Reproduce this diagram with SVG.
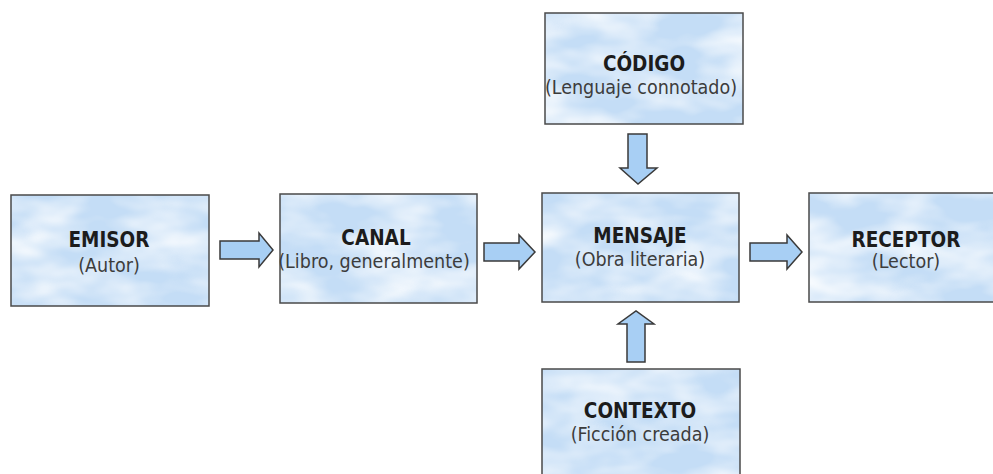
<svg xmlns="http://www.w3.org/2000/svg" width="993" height="474" viewBox="0 0 993 474">
<style>
.bg{fill:#c4ddf6;filter:url(#clouds)}
.bd{fill:none;stroke:#4a4a4a;stroke-width:1.5}
.t{font-family:"DejaVu Sans Condensed","DejaVu Sans",Verdana,sans-serif;font-stretch:condensed;font-weight:bold;font-size:20.5px;fill:#1c1c1c;text-anchor:middle}
.s{font-family:"DejaVu Sans Condensed","DejaVu Sans",Verdana,sans-serif;font-stretch:condensed;font-size:19.5px;fill:#3c3c3c;text-anchor:middle}
.arr{fill:#a8cff4;stroke:#3a3a3a;stroke-width:1.5;stroke-linejoin:miter}
</style>
<defs>
<filter id="clouds" x="0" y="0" width="100%" height="100%" color-interpolation-filters="sRGB">
<feTurbulence type="fractalNoise" baseFrequency="0.014 0.03" numOctaves="3" seed="7" result="n"/>
<feColorMatrix in="n" type="matrix" values="0 0 0 0 1  0 0 0 0 1  0 0 0 0 1  1.7 0 0 0 -0.6" result="w"/>
<feComposite in="w" in2="SourceGraphic" operator="in" result="wc"/>
<feMerge><feMergeNode in="SourceGraphic"/><feMergeNode in="wc"/></feMerge>
</filter>
</defs>
<rect width="993" height="474" fill="#ffffff"/>
<g id="emisor">
<rect class="bg" x="11" y="195" width="198" height="111"/>
<rect class="bd" x="11" y="195" width="198" height="111"/>
<text class="t" x="109" y="247">EMISOR</text>
<text class="s" x="109" y="272">(Autor)</text>
</g>
<g id="canal">
<rect class="bg" x="280" y="194" width="197" height="109"/>
<rect class="bd" x="280" y="194" width="197" height="109"/>
<text class="t" x="376" y="245">CANAL</text>
<text class="s" x="374" y="268">(Libro, generalmente)</text>
</g>
<g id="mensaje">
<rect class="bg" x="542" y="193" width="197" height="109"/>
<rect class="bd" x="542" y="193" width="197" height="109"/>
<text class="t" x="640" y="243">MENSAJE</text>
<text class="s" x="640" y="266">(Obra literaria)</text>
</g>
<g id="receptor">
<rect class="bg" x="809" y="193" width="198" height="109"/>
<rect class="bd" x="809" y="193" width="198" height="109"/>
<text class="t" x="906" y="247">RECEPTOR</text>
<text class="s" x="906" y="268">(Lector)</text>
</g>
<g id="codigo">
<rect class="bg" x="545" y="13" width="198" height="111"/>
<rect class="bd" x="545" y="13" width="198" height="111"/>
<text class="t" x="644" y="71">CÓDIGO</text>
<text class="s" x="641" y="94">(Lenguaje connotado)</text>
</g>
<g id="contexto">
<rect class="bg" x="542" y="369" width="198" height="112"/>
<rect class="bd" x="542" y="369" width="198" height="112"/>
<text class="t" x="640" y="418">CONTEXTO</text>
<text class="s" x="640" y="441">(Ficción creada)</text>
</g>
<g id="connectors">
<polygon class="arr" points="220,241 259,241 259,233 273,250 259,267 259,259 220,259"/>
<polygon class="arr" points="484,243 519,243 519,235 535,252 519,269 519,261 484,261"/>
<polygon class="arr" points="750,243 787,243 787,235 802,252 787,269 787,261 750,261"/>
<polygon class="arr" points="628,134 647,134 647,168 657,168 638,184 620,168 628,168"/>
<polygon class="arr" points="627,362 645,362 645,324 654,324 636,311 618,324 627,324"/>
</g>
</svg>
